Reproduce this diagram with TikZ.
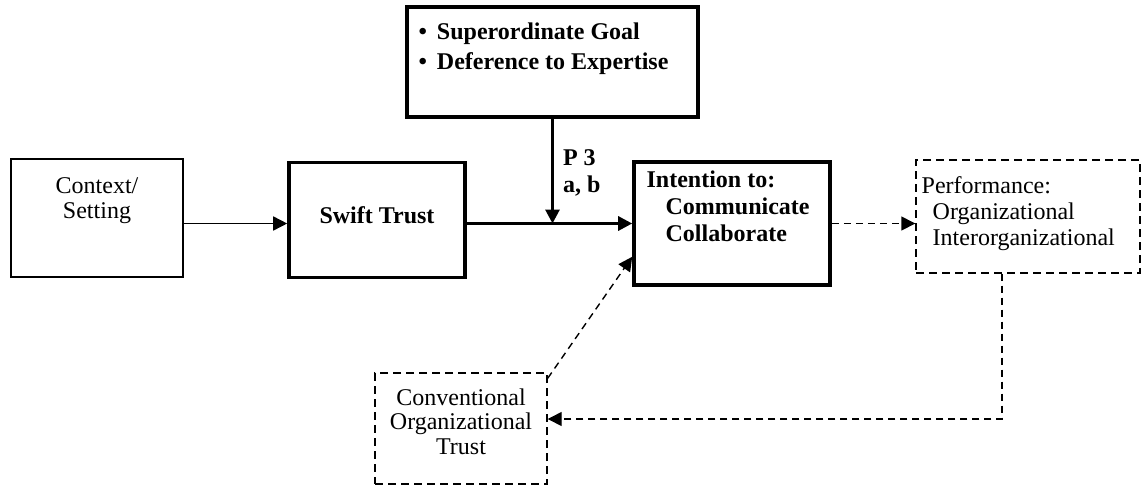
\documentclass[tikz,border=0pt]{standalone}
\usepackage{fontspec}
\setmainfont{Liberation Serif}
\usetikzlibrary{arrows.meta, positioning, calc}
\tikzset{
    box/.style    ={draw, line width=0.75pt, inner sep=0pt},
    boldbox/.style={box, line width=1.8pt},
    dbox/.style   ={box, line width=0.7pt, dash pattern=on 4pt off 2.5pt},
    txt/.style    ={inner sep=0pt, font=\fontsize{12}{12.5}\selectfont},
    btxt/.style   ={inner sep=0pt, font=\fontsize{12}{13.5}\selectfont\bfseries},
    ar/.style     ={-{Triangle[length=7pt, width=7pt]}, line width=0.8pt},
    tar/.style    ={ar, line width=1.5pt},
    dar/.style    ={ar, line width=0.7pt, dash pattern=on 3.5pt off 2.5pt},
    lbl/.style    ={btxt, align=left}
}

\begin{document}
\begin{tikzpicture}[x=0.5pt, y=-0.5pt]
  \useasboundingbox (0,0) rectangle (1143,487);

  % boxes
  \node[box, minimum width=86pt, minimum height=59pt] (ctx) at (97,218) {};
  \node[boldbox, btxt, text depth=4.5pt, minimum width=88pt, minimum height=57.5pt] (swift) at (377,220) {Swift Trust};
  \node[boldbox, minimum width=145.5pt, minimum height=55pt] (goals) at (552.5,62) {};
  \node[boldbox, minimum width=98pt, minimum height=61.5pt] (intent) at (732,223.5) {};
  \node[dbox, minimum width=112pt, minimum height=56.5pt] (perf) at (1028,216.5) {};
  \node[dbox, minimum width=86pt, minimum height=55.5pt] (conv) at (461,428.5) {};

  % box texts
  \node[txt, align=center, below=9.5pt of ctx.north] (ctxtxt) {Context/\\Setting};
  \node[btxt, font=\fontsize{12}{15}\selectfont\bfseries, align=left,
        below right=8.5pt and 6.5pt of goals.north west] (goalstxt)
        {\textbullet\hspace{5pt}Superordinate Goal\\\textbullet\hspace{5pt}Deference to Expertise};
  \node[btxt, align=left, below right=5pt and 7pt of intent.north west] (intenttxt)
        {Intention to:\\\hspace*{9.5pt}Communicate\\\hspace*{9.5pt}Collaborate};
  \node[txt, font=\fontsize{12}{13}\selectfont, align=left,
        below right=8.3pt and 3pt of perf.north west] (perftxt)
        {Performance:\\\hspace*{5.5pt}Organizational\\\hspace*{5.5pt}Interorganizational};
  \node[txt, font=\fontsize{12}{12.3}\selectfont, align=center, below=8pt of conv.north] (convtxt)
        {Conventional\\Organizational\\Trust};

  \coordinate (turn) at (1002,419);
  \coordinate (hit) at ($(intent.south west)+(0,-30)$);

  % solid links
  \draw[ar] (ctx.east |- intent.west) -- (swift.west |- intent.west);
  \draw[tar] (swift.east |- intent.west) -- (intent.west);
  \draw[tar] (goals.south) -- node[lbl, right=4.5pt, pos=0.52] {P 3\\a, b} (goals.south |- intent.west);

  % dashed feedback loop
  \draw[dar] (intent.east) -- (intent.east -| perf.west);
  \draw[dar] (turn |- perf.south) -- (turn) -- (turn -| conv.east);
  \draw[dar] ($(conv.north east)+(0,6)$) -- (hit);
\end{tikzpicture}
\end{document}
